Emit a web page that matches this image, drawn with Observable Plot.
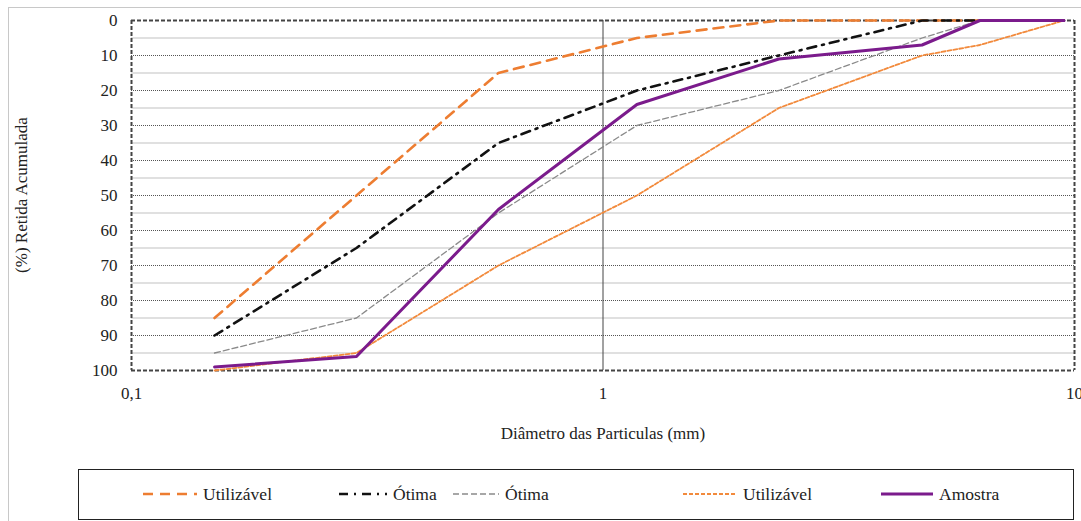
<!DOCTYPE html>
<html><head><meta charset="utf-8">
<script src="https://cdn.jsdelivr.net/npm/d3@7"></script>
<script src="https://cdn.jsdelivr.net/npm/@observablehq/plot@0.6"></script>
<style>
body{margin:0;background:#fff;font-family:"Liberation Serif","DejaVu Serif","Times New Roman",serif;}
#wrap{position:relative;width:1081px;height:521px;overflow:hidden;}
#outer{position:absolute;left:8px;top:7px;width:1100px;height:600px;border:1px solid #c8c8c8;}
#chart{position:absolute;left:0;top:0;}
.lbl{position:absolute;font-size:17px;color:#222;white-space:nowrap;}
#legend{position:absolute;left:78px;top:469px;width:994px;height:49px;border:1.5px solid #222;background:#fff;}
.item{position:absolute;top:14px;height:20px;display:flex;align-items:center;font-size:17.5px;color:#222;}
.item svg{margin-right:6px;}
</style></head>
<body>
<div id="wrap">
<div id="outer"></div>
<div id="chart"></div>
<div class="lbl" id="xl" style="left:0;width:1206px;top:424px;text-align:center;">Diâmetro das Particulas (mm)</div>
<div class="lbl" id="yl" style="left:22px;top:195px;transform:translate(-50%,-50%) rotate(-90deg);">(%) Retida Acumulada</div>
<div id="legend"></div>
</div>
<script>
const sieves = [0.15, 0.3, 0.6, 1.18, 2.36, 4.75, 6.3, 9.5];
const utilizavelInf = [85, 50, 15, 5, 0, 0, 0, 0];
const otimaInf = [90, 65, 35, 20, 10, 0, 0, 0];
const otimaSup = [95, 85, 55, 30, 20, 5, 0, 0];
const utilizavelSup = [100, 95, 70, 50, 25, 10, 7, 0];
const amostra = [99, 96, 54, 24, 11, 7, 0, 0];
const xTicks = [0.1, 1, 10];
const yTicks = [0, 10, 20, 30, 40, 50, 60, 70, 80, 90, 100];
const minorY = [5, 15, 25, 35, 45, 55, 65, 75, 85, 95];
const majorY = [10, 20, 30, 40, 50, 60, 70, 80, 90];

const series = [
  {name: "Utilizável", values: utilizavelInf, stroke: "#ED7D31", width: 2.6, dash: "10,7"},
  {name: "Ótima", values: otimaInf, stroke: "#111", width: 2.6, dash: "9,6,2,6"},
  {name: "Ótima", values: otimaSup, stroke: "#8a8a8a", width: 1.3, dash: "6,3"},
  {name: "Utilizável", values: utilizavelSup, stroke: "#F28A3C", width: 1.8, dash: "4,2"},
  {name: "Amostra", values: amostra, stroke: "#7B1B8C", width: 3, dash: null}
];

const rows = s => sieves.map((d, i) => ({x: d, y: s.values[i]}));

const marks = [
  Plot.ruleY(minorY, {stroke: "#d6d6d6", strokeWidth: 1.5}),
  Plot.ruleY(majorY, {stroke: "#555", strokeWidth: 1, strokeDasharray: "1,1"}),
  Plot.ruleX([1], {stroke: "#444", strokeWidth: 1, y1: 0, y2: 100}),
  Plot.ruleY([0, 100], {stroke: "#444", strokeWidth: 2, strokeDasharray: "4,2"}),
  Plot.ruleX([0.1, 10], {stroke: "#444", strokeWidth: 2, strokeDasharray: "4,2", y1: 0, y2: 100}),
  ...series.map(s => Plot.line(rows(s), {x: "x", y: "y", stroke: s.stroke, strokeWidth: s.width, strokeDasharray: s.dash})),
  Plot.axisX(xTicks, {tickSize: 0, tickPadding: 16, fontSize: 17, fill: "#222", tickFormat: d => d === 0.1 ? "0,1" : String(d), label: null}),
  Plot.axisY(yTicks, {tickSize: 0, tickPadding: 14, fontSize: 17, fill: "#222", label: null})
];

const chart = Plot.plot({
  width: 1081, height: 460,
  marginLeft: 131, marginRight: 7, marginTop: 20, marginBottom: 90,
  style: {fontFamily: "'Liberation Serif', 'DejaVu Serif', serif", background: "transparent", overflow: "visible"},
  x: {type: "log", domain: [0.1, 10]},
  y: {domain: [0, 100], reverse: true},
  marks
});
document.getElementById("chart").appendChild(chart);

const legPos = [{l: 64, w: 54}, {l: 260, w: 48}, {l: 374, w: 46}, {l: 604, w: 54}, {l: 802, w: 52}];
const legend = document.getElementById("legend");
series.forEach((s, i) => {
  const it = document.createElement("div");
  it.className = "item";
  it.style.left = legPos[i].l + "px";
  const w = legPos[i].w;
  it.innerHTML = `<svg width="${w}" height="10"><line x1="0" x2="${w}" y1="5" y2="5" stroke="${s.stroke}" stroke-width="${s.width}" ${s.dash ? `stroke-dasharray="${s.dash}"` : ""}/></svg><span>${s.name}</span>`;
  legend.appendChild(it);
});
</script>
</body></html>
